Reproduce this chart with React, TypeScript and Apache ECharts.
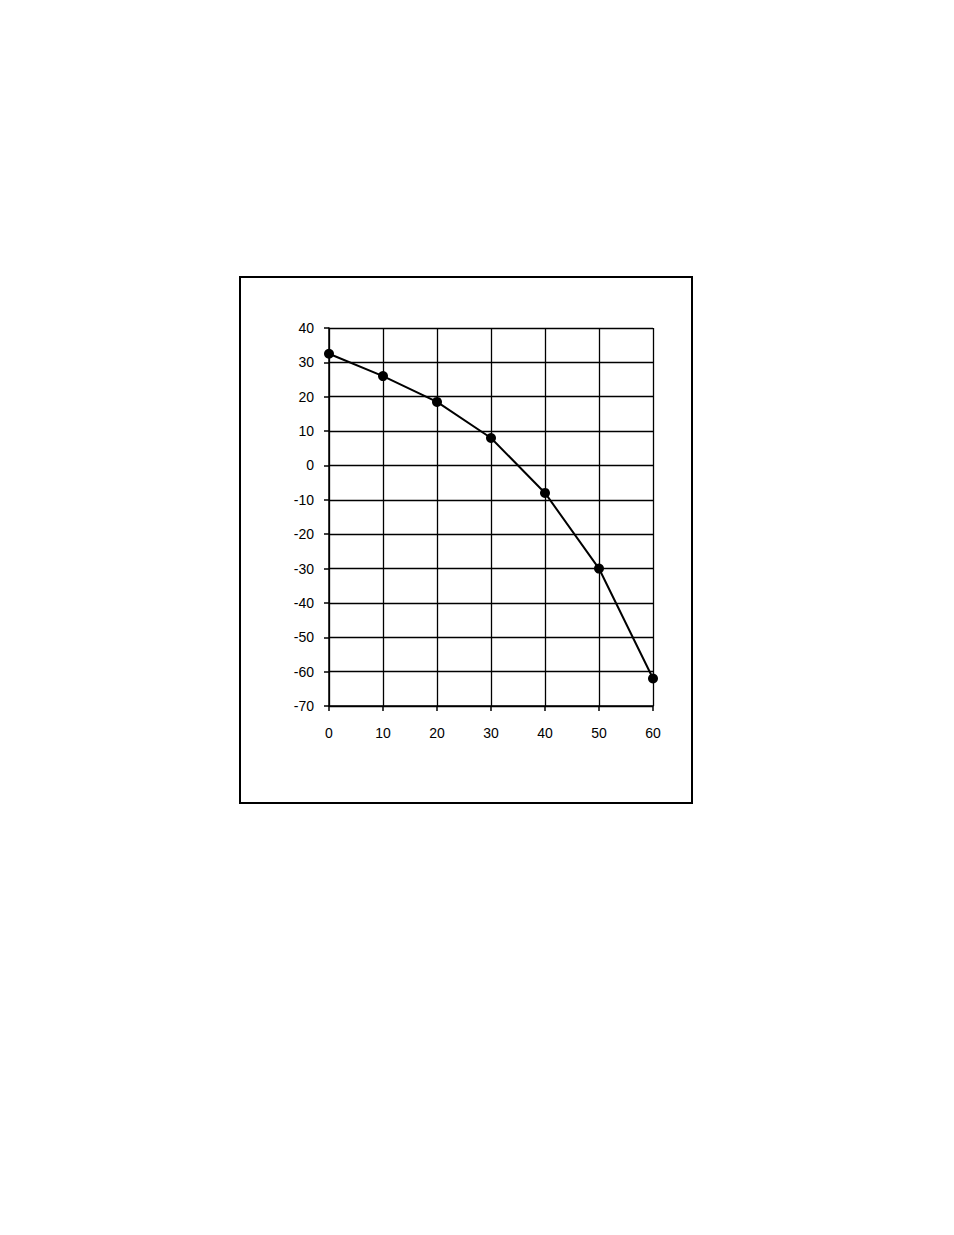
import React, { useEffect, useRef } from "react";
import * as echarts from "echarts";

const xValues = [0, 10, 20, 30, 40, 50, 60];
const yValues = [32.5, 26, 18.5, 8, -8, -30, -62];

const App = () => {
  const chartRef = useRef<HTMLDivElement>(null);

  useEffect(() => {
    if (!chartRef.current) return;
    const chart = echarts.init(chartRef.current, null, { renderer: "svg" });

    const font = { fontFamily: "Liberation Sans, Arial, sans-serif", fontSize: 14, color: "#000" };

    chart.setOption({
      animation: false,
      backgroundColor: "#fff",
      graphic: [
        {
          type: "rect",
          shape: { x: 240, y: 277, width: 452, height: 526 },
          style: { fill: "none", stroke: "#000", lineWidth: 2 },
        },
      ],
      grid: { left: 329, top: 328, width: 324, height: 378, containLabel: false },
      xAxis: {
        type: "value",
        min: 0,
        max: 60,
        interval: 10,
        axisLine: { show: true, onZero: false, lineStyle: { color: "#000", width: 1.5 } },
        axisTick: { show: true, length: 5, lineStyle: { color: "#000", width: 1.5 } },
        axisLabel: { ...font, margin: 20 },
        splitLine: { show: true, lineStyle: { color: "#000", width: 1.3 } },
      },
      yAxis: {
        type: "value",
        min: -70,
        max: 40,
        interval: 10,
        axisLine: { show: true, onZero: false, lineStyle: { color: "#000", width: 1.5 } },
        axisTick: { show: true, length: 5, lineStyle: { color: "#000", width: 1.5 } },
        axisLabel: { ...font, margin: 15 },
        splitLine: { show: true, lineStyle: { color: "#000", width: 1.3 } },
      },
      series: [
        {
          type: "line",
          data: xValues.map((x, i) => [x, yValues[i]]),
          symbol: "circle",
          symbolSize: 10,
          lineStyle: { color: "#000", width: 2 },
          itemStyle: { color: "#000" },
        },
      ],
    });

    return () => chart.dispose();
  }, []);

  return (
    <div
      ref={chartRef}
      style={{ position: "absolute", left: 0, top: 0, width: "954px", height: "1235px" }}
    />
  );
};

export default App;
